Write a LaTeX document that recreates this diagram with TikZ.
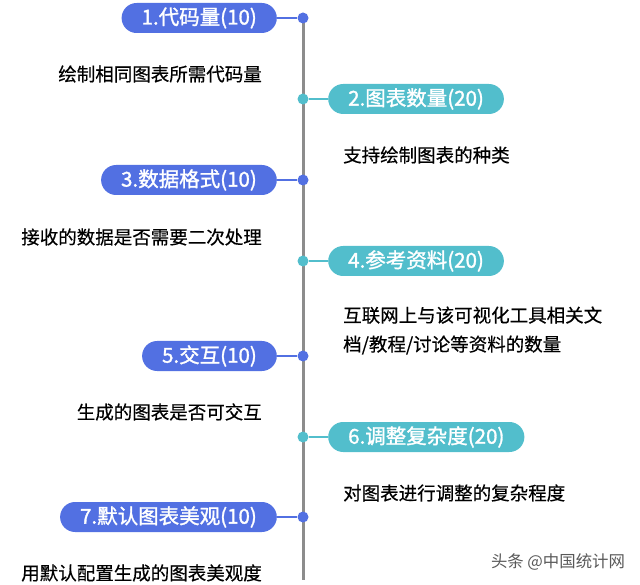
\documentclass[tikz,border=0pt]{standalone}
\usepackage{fontspec}
\setmainfont{Noto Sans CJK SC}
\newfontfamily\pillfont{Noto Sans CJK SC}[FakeBold=1.4]
\newfontfamily\descfont{Noto Sans CJK SC}[FakeBold=0.5]
\definecolor{pillblue}{RGB}{82,112,226}
\definecolor{pillteal}{RGB}{82,190,204}
\definecolor{axisgray}{RGB}{140,140,140}

\begin{document}
\begin{tikzpicture}[x=1pt,y=-1pt,
  pill/.style={rounded corners=15pt, minimum height=30pt, inner xsep=20pt, inner ysep=0pt,
    text=white, font=\pillfont\fontsize{20.5}{24}\selectfont},
  dot/.style={circle, inner sep=0pt, minimum size=11pt},
  desc/.style={inner sep=0pt, text=black, align=left, font=\descfont\fontsize{18.5}{29}\selectfont},
  link/.style={line width=2pt}]
\useasboundingbox (0,0) rectangle (640,585); % same frame as the picture
%% Eje vertical
\coordinate (top) at (303,18);
\coordinate (bottom) at (303,580);
\draw[axisgray, line width=3pt] (top) -- (bottom);

%% Etiquetas a la izquierda (azul) %%%%%%%%%%%%%%%
\foreach \i/\y/\txt in {1/18/{1.代码量(10)}, 3/180/{3.数据格式(10)},
                        5/356/{5.交互(10)}, 7/517/{7.默认图表美观(10)}}{
  \node[pill, fill=pillblue, anchor=east] (p\i) at (277,\y) {\txt};
  \node[dot, fill=pillblue] (d\i) at (303,\y) {};
  \draw[link, pillblue] (p\i) -- (d\i);
}
%% Etiquetas a la derecha (turquesa) %%%%%%%%%%%%%
\foreach \i/\y/\txt in {2/99/{2.图表数量(20)}, 4/261/{4.参考资料(20)},
                        6/437/{6.调整复杂度(20)}}{
  \node[pill, fill=pillteal, anchor=west] (p\i) at (328,\y) {\txt};
  \node[dot, fill=pillteal] (d\i) at (303,\y) {};
  \draw[link, pillteal] (d\i) -- (p\i);
}

%% Descripciones
\node[desc, anchor=east] (t1) at (262,74) {绘制相同图表所需代码量};
\node[desc, anchor=west] (t2) at (343,155) {支持绘制图表的种类};
\node[desc, anchor=east] (t3) at (262,237) {接收的数据是否需要二次处理};
\node[desc, anchor=west] (t4) at (343,330.5) {互联网上与该可视化工具相关文\\档/教程/讨论等资料的数量};
\node[desc, anchor=east] (t5) at (262,412) {生成的图表是否可交互};
\node[desc, anchor=west] (t6) at (343,493) {对图表进行调整的复杂程度};
\node[desc, anchor=east] (t7) at (262,573) {用默认配置生成的图表美观度};

%% marca de agua
\node[inner sep=0pt, text=black!65, font=\fontsize{16.4}{20}\selectfont] (wm) at (558,562) {头条 @中国统计网};
\end{tikzpicture}
\end{document}
